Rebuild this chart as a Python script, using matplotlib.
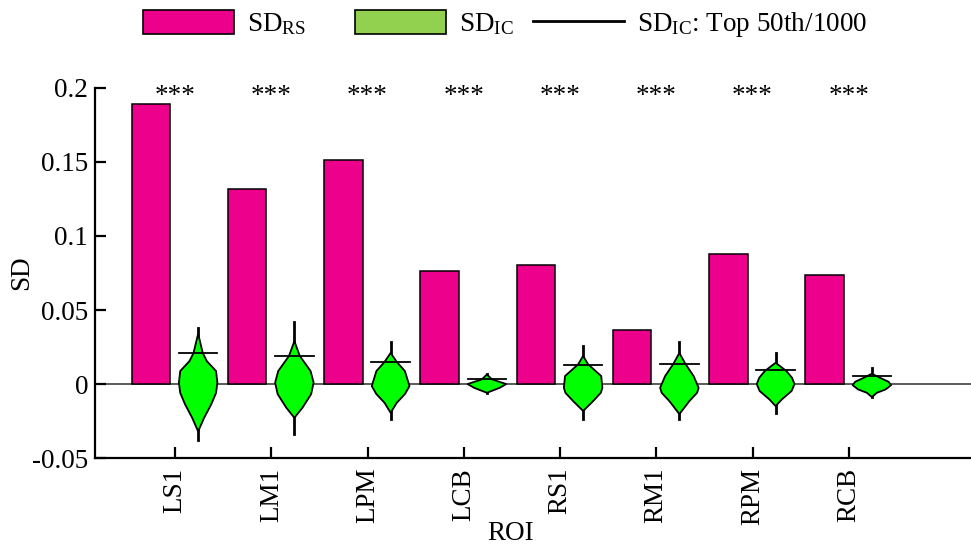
import numpy as np
import matplotlib
matplotlib.use("Agg")
import matplotlib.pyplot as plt
from matplotlib.patches import Patch
from matplotlib.lines import Line2D

plt.rcParams["font.family"] = ["Liberation Serif", "DejaVu Serif"]
plt.rcParams["mathtext.fontset"] = "custom"
plt.rcParams["mathtext.rm"] = "Liberation Serif"
plt.rcParams["mathtext.it"] = "Liberation Serif:italic"

# ---- data ----
rois = ["LS1", "LM1", "LPM", "LCB", "RS1", "RM1", "RPM", "RCB"]
sd_rs = [0.189, 0.132, 0.151, 0.0764, 0.0802, 0.0365, 0.088, 0.0736]
top50 = [0.0209, 0.0187, 0.0149, 0.0034, 0.0126, 0.0135, 0.0097, 0.0054]
ic_min = [-0.038, -0.0336, -0.0234, -0.0059, -0.0234, -0.0234, -0.0194, -0.0088]
ic_max = [0.0376, 0.042, 0.0286, 0.0065, 0.0257, 0.0286, 0.0207, 0.011]
sig = ["***"] * 8

# violin outlines: SD_IC levels and relative half-widths
ic_levels = [
    [0.034, 0.021, 0.0155, 0.0088, 0.001, -0.006, -0.0137, -0.0228, -0.032],
    [0.029, 0.019, 0.0088, 0.001, -0.0068, -0.016, -0.0228],
    [0.021, 0.0149, 0.0088, -0.0014, -0.0068, -0.0126, -0.0194],
    [0.0065, 0.0032, 0.0, -0.0025, -0.0059],
    [0.019, 0.0133, 0.0054, -0.0025, -0.0059, -0.0115, -0.0182],
    [0.021, 0.0137, 0.0054, -0.0025, -0.0059, -0.0115, -0.0169, -0.0203],
    [0.0144, 0.0088, 0.0043, 0.0, -0.0047, -0.0104, -0.0149],
    [0.007, 0.0043, 0.0016, -0.0007, -0.0036, -0.0059, -0.0088],
]
ic_widths = [
    [0.0, 0.24, 0.45, 0.93, 1.0, 0.93, 0.68, 0.31, 0.0],
    [0.0, 0.28, 0.84, 1.0, 0.87, 0.42, 0.0],
    [0.0, 0.32, 0.74, 0.98, 0.74, 0.32, 0.0],
    [0.0, 0.26, 1.0, 0.67, 0.0],
    [0.0, 0.26, 0.94, 1.0, 0.92, 0.52, 0.0],
    [0.0, 0.31, 0.74, 1.0, 0.92, 0.52, 0.2, 0.0],
    [0.0, 0.56, 0.85, 0.98, 0.83, 0.32, 0.0],
    [0.0, 0.41, 0.86, 1.0, 0.72, 0.26, 0.0],
]

pink = "#EC008C"
green = "#00FF00"
legend_green = "#92D050"
fs = 19.5

fig = plt.figure(figsize=(9.71, 5.46), dpi=100)
ax = fig.add_axes([0.0978, 0.161, 0.9022, 0.678])

x = np.arange(1, len(rois) + 1)
bar_off = -0.25
vio_off = 0.24
half_w = 0.2

ax.axhline(0, color="#404040", lw=1.2, zorder=1)
ax.bar(x + bar_off, sd_rs, width=0.40, color=pink, edgecolor="black",
       linewidth=1.1, zorder=2)

for i in range(len(rois)):
    cx = x[i] + vio_off
    lv = np.array(ic_levels[i])
    wd = np.array(ic_widths[i]) * half_w
    ax.plot([cx, cx], [ic_min[i], ic_max[i]], color="black", lw=2.0, zorder=3)
    xs = np.concatenate([cx + wd, (cx - wd)[::-1]])
    ys = np.concatenate([lv, lv[::-1]])
    ax.fill(xs, ys, facecolor=green, edgecolor="black", lw=1.3,
            joinstyle="round", zorder=4)
    ax.plot([cx - half_w, cx + half_w], [top50[i], top50[i]], color="black",
            lw=1.3, zorder=5)
    ax.text(x[i], 0.1945, sig[i], ha="center", va="center", fontsize=fs)

ax.set_xlim(0.168, 9.27)
ax.set_ylim(-0.05, 0.2)
ax.set_xticks(x)
ax.set_xticklabels(rois, rotation=90, fontsize=fs)
yt = [-0.05, 0, 0.05, 0.1, 0.15, 0.2]
ax.set_yticks(yt)
ax.set_yticklabels(["-0.05", "0", "0.05", "0.1", "0.15", "0.2"], fontsize=fs)
ax.tick_params(direction="in", length=8, width=1.6)
ax.tick_params(axis="x", pad=7)
ax.tick_params(axis="y", pad=5)
ax.spines["top"].set_visible(False)
ax.spines["right"].set_visible(False)
ax.spines["left"].set_linewidth(1.6)
ax.spines["bottom"].set_linewidth(1.6)

ax.set_xlabel("ROI", fontsize=fs)
ax.xaxis.set_label_coords(0.474, -0.171)
ax.set_ylabel("SD", fontsize=fs, labelpad=-2)

# legend entries placed one by one to keep the reference spacing
entries = [
    (Patch(facecolor=pink, edgecolor="black", lw=1.2), r"SD$_{\mathrm{RS}}$", 143),
    (Patch(facecolor=legend_green, edgecolor="black", lw=1.2), r"SD$_{\mathrm{IC}}$", 355),
    (Line2D([], [], color="black", lw=2), r"SD$_{\mathrm{IC}}$: Top 50th/1000", 533),
]
for handle, label, px in entries:
    fig.legend([handle], [label], loc="upper left",
               bbox_to_anchor=(px / 971, 1 - 10 / 546), frameon=False,
               fontsize=fs, handlelength=3.35, handleheight=1.0,
               handletextpad=0.5, borderpad=0, borderaxespad=0)

fig.savefig("out.png", dpi=100)
